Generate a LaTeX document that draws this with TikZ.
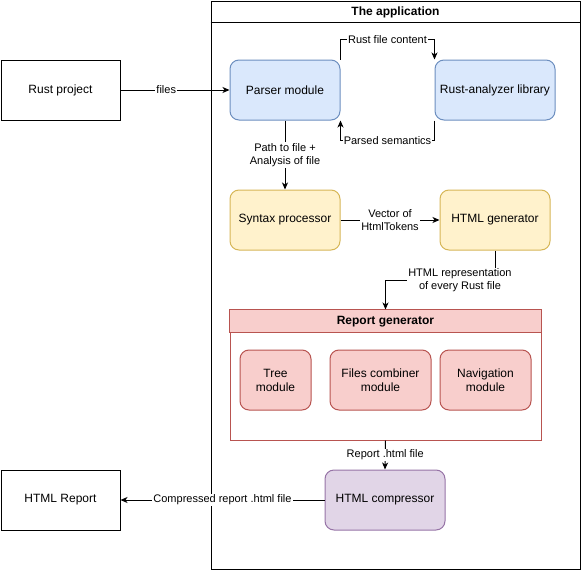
\documentclass[tikz,border=0pt]{standalone}
\usepackage{fontspec}
\setmainfont{Liberation Sans}
\usetikzlibrary{arrows.meta}
\definecolor{bluefill}{HTML}{DAE8FC}\definecolor{blueline}{HTML}{6C8EBF}
\definecolor{yelfill}{HTML}{FFF2CC}\definecolor{yelline}{HTML}{D6B656}
\definecolor{redfill}{HTML}{F8CECC}\definecolor{redline}{HTML}{B85450}
\definecolor{purfill}{HTML}{E1D5E7}\definecolor{purline}{HTML}{9673A6}
\begin{document}
\begin{tikzpicture}[x=1pt,y=-1pt,line width=1pt,
  txt/.style={font=\fontsize{12}{14}\selectfont, align=center},
  plainbox/.style={txt, draw=black, fill=white, inner sep=0pt, minimum width=119pt, minimum height=60pt},
  module/.style={txt, rounded corners=9pt, inner sep=0pt, minimum height=60pt},
  bluebox/.style={module, draw=blueline, fill=bluefill},
  yelbox/.style={module, draw=yelline, fill=yelfill},
  redbox/.style={module, draw=redline, fill=redfill},
  purbox/.style={module, draw=purline, fill=purfill},
  lbl/.style={fill=white, font=\fontsize{11}{13}\selectfont, align=center, inner sep=1pt},
  arr/.style={-{Stealth[length=7pt,width=6pt,inset=2pt]}},
  title/.style={font=\fontsize{12}{14}\selectfont\bfseries}
]
\useasboundingbox (0,0) rectangle (582,571);

% application container
\node[draw=black, inner sep=0pt, minimum width=369pt, minimum height=568pt] (app) at (395.5,285) {};
\draw ([yshift=-22pt]app.north west) -- ([yshift=-22pt]app.north east);
\node[title] (apptitle) at ([yshift=-12pt]app.north) {The application};

% outside boxes
\node[plainbox] (rp) at (60.5,90) {Rust project};
\node[plainbox] (hr) at (60.5,500) {HTML Report};

% modules
\node[bluebox, minimum width=110pt] (parser) at (285,90) {Parser module};
\node[bluebox, minimum width=120pt] (ra) at (495,90) {Rust-analyzer library};
\node[yelbox, minimum width=110pt] (syn) at (285,220) {Syntax processor};
\node[yelbox, minimum width=110pt] (gen) at (495,220) {HTML generator};
\node[purbox, minimum width=120pt] (comp) at (385,500) {HTML compressor};

% report generator container
\node[draw=redline, fill=white, inner sep=0pt, minimum width=311pt, minimum height=130pt] (rep) at (385.5,375) {};
\filldraw[draw=redline, fill=redfill] (rep.north west) rectangle ([yshift=-23pt]rep.north east);
\node[title] (reptitle) at ([yshift=-12.5pt]rep.north) {Report generator};
\node[redbox, minimum width=71pt] (tree) at (275.5,380) {Tree\\module};
\node[redbox, minimum width=101pt] (comb) at (380.5,380) {Files combiner\\module};
\node[redbox, minimum width=91pt] (nav) at (485.5,380) {Navigation\\module};

% connectors
\draw[arr] (rp.east) -- node[lbl, pos=0.42] {files} (parser.west);
\draw[arr] (parser.north east) -- ++(0,-20) -| node[lbl, pos=0.25] {Rust file content} (ra.north west);
\draw[arr] (ra.south west) -- ++(0,20) -| node[lbl, pos=0.25] {Parsed semantics} (parser.south east);
\draw[arr] (parser) -- node[lbl] {Path to file +\\Analysis of file} (syn);
\draw[arr] (syn) -- node[lbl] {Vector of\\HtmlTokens} (gen);
\draw[arr] (gen.south) -- ++(0,30) -| node[lbl, pos=0.16] {HTML representation\\of every Rust file} (rep.north);
\draw[arr] (rep.south) -- node[lbl] {Report .html file} (comp.north);
\draw[arr] (comp.west) -- node[lbl] {Compressed report .html file} (hr.east);
\end{tikzpicture}
\end{document}
